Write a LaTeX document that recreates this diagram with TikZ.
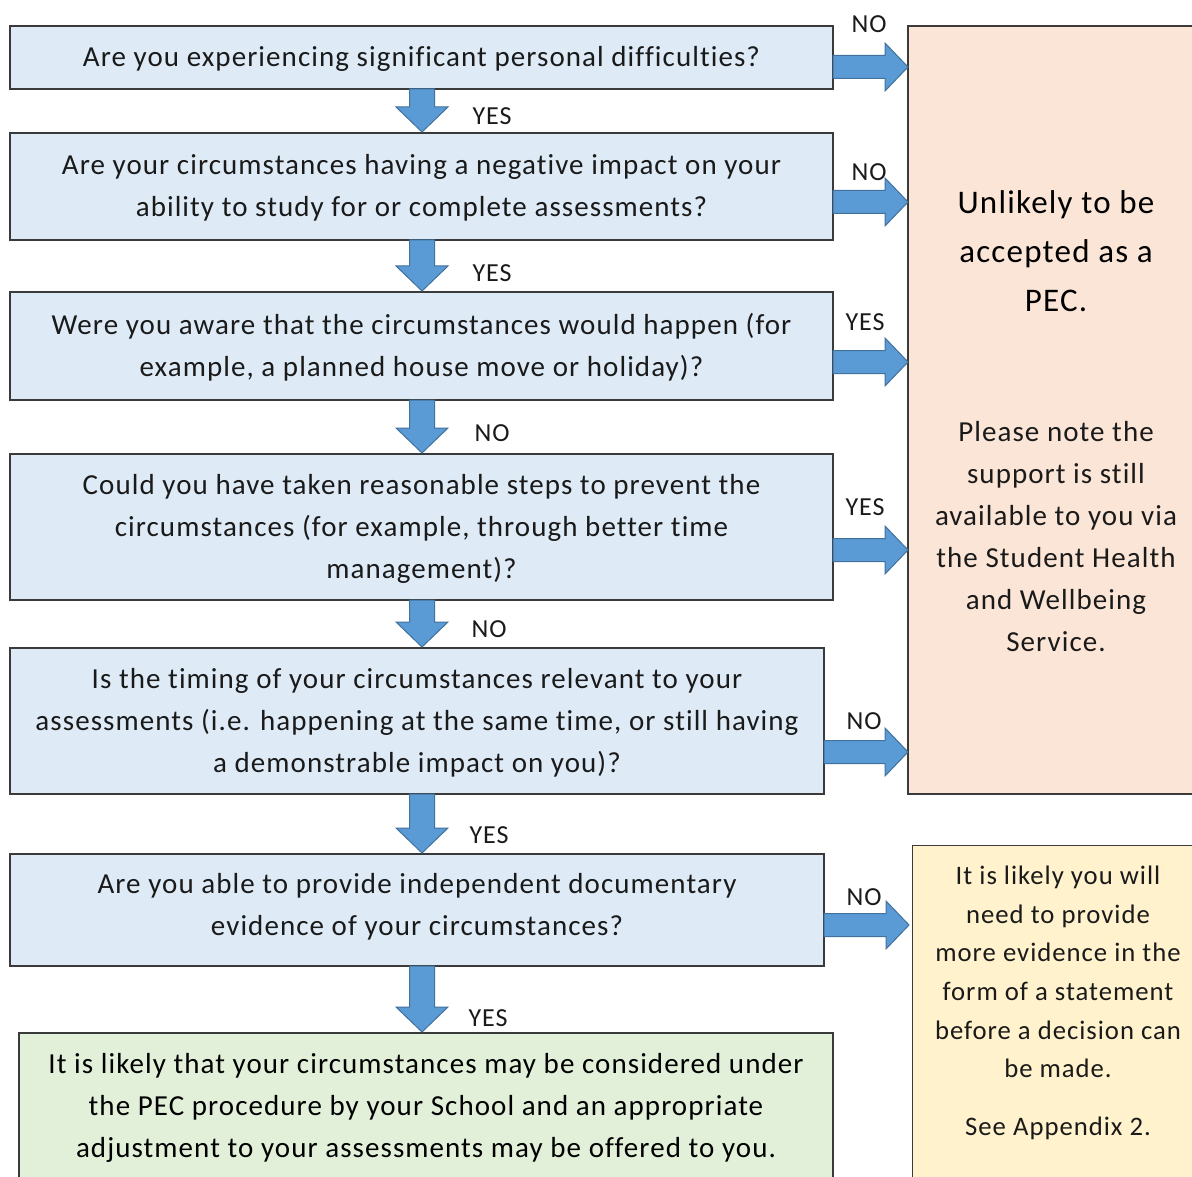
\documentclass[tikz,border=0pt]{standalone}
\usepackage{fontspec}
\setmainfont{Carlito}[LetterSpace=3.7, Ligatures=NoCommon]
\usetikzlibrary{calc}
\definecolor{qfill}{HTML}{DEEBF7}
\definecolor{pinkfill}{HTML}{FBE5D6}
\definecolor{yelfill}{HTML}{FFF2CC}
\definecolor{grnfill}{HTML}{E2F0D9}
\definecolor{arrfill}{HTML}{5B9BD5}
\definecolor{arredge}{HTML}{41719C}
\definecolor{edgegray}{HTML}{3A3A3A}
\definecolor{txt}{HTML}{1A1A1A}
\tikzset{
  qbox/.style={draw=edgegray, line width=1.2pt, fill=qfill},
  qtext/.style={text=txt, align=center, inner sep=0pt, font=\fontsize{29}{42}\selectfont},
  lbl/.style={text=txt, inner sep=0pt, font=\fontsize{26}{28}\selectfont},
  barrow/.style={fill=arrfill, draw=arredge, line width=1pt, line join=miter},
}
\newcommand\downarr[2]{\draw[barrow] let \p1=(#1), \p2=(#2) in
  (\x1-12.5pt,\y1) -- (\x1+12.5pt,\y1) -- (\x1+12.5pt,\y2+25pt) -- (\x1+26pt,\y2+25pt)
  -- (\x1,\y2) -- (\x1-26pt,\y2+25pt) -- (\x1-12.5pt,\y2+25pt) -- cycle;}
\newcommand\rightarr[2]{\draw[barrow] let \p1=(#1), \p2=(#2) in
  (\x1,\y1+11.5pt) -- (\x2-23pt,\y1+11.5pt) -- (\x2-23pt,\y1+24pt) -- (\x2,\y1)
  -- (\x2-23pt,\y1-24pt) -- (\x2-23pt,\y1-11.5pt) -- (\x1,\y1-11.5pt) -- cycle;}
\begin{document}
\begin{tikzpicture}[x=1pt,y=-1pt]
\useasboundingbox[fill=white] (0,0) rectangle (1192,1177);
% question boxes
\draw[qbox] (10,26) rectangle (833,89) node[midway, qtext, yshift=-1.5pt] (q1) {Are you experiencing significant personal difficulties?};
\draw[qbox] (10,133) rectangle (833,240) node[midway, qtext, yshift=-1pt] (q2) {Are your circumstances having a negative impact on your\\ability to study for or complete assessments?};
\draw[qbox] (10,292) rectangle (833,400) node[midway, qtext, yshift=-1pt] (q3) {Were you aware that the circumstances would happen (for\\example, a planned house move or holiday)?};
\draw[qbox] (10,454) rectangle (833,600) node[midway, qtext, yshift=-1.5pt] (q4) {Could you have taken reasonable steps to prevent the\\circumstances (for example, through better time\\management)?};
\draw[qbox] (10,648) rectangle (824,794) node[midway, qtext, yshift=-1.5pt] (q5) {Is the timing of your circumstances relevant to your\\assessments (i.e. happening at the same time, or still having\\a demonstrable impact on you)?};
\draw[qbox] (10,854) rectangle (824,966) node[midway, qtext, yshift=3pt] (q6) {Are you able to provide independent documentary\\evidence of your circumstances?};
\draw[draw=edgegray, line width=1.2pt, fill=grnfill] (19,1033) rectangle (833,1190);
\node[qtext, font=\fontsize{29}{42}\selectfont, text=black] (res) at (426,1108) {It is likely that your circumstances may be considered under\\the PEC procedure by your School and an appropriate\\adjustment to your assessments may be offered to you.};
% outcome boxes
\draw[draw=edgegray, line width=1.2pt, fill=pinkfill] (908,26) rectangle (1205,794);
\node[text=black, align=center, inner sep=0pt, font=\fontsize{33}{49}\selectfont] (pt) at (1056,251) {Unlikely to be\\accepted as a\\PEC.};
\node[qtext] (pb) at (1056,537) {Please note the\\support is still\\available to you via\\the Student Health\\and Wellbeing\\Service.};
\draw[draw=edgegray, line width=1pt, fill=yelfill] (912,845) rectangle (1205,1190);
\node[qtext, font=\fontsize{26.7}{38.6}\selectfont] (yb) at (1058,972) {It is likely you will\\need to provide\\more evidence in the\\form of a statement\\before a decision can\\be made.};
\node[qtext, font=\fontsize{26.7}{38.6}\selectfont] (yb2) at (1058,1128) {See Appendix 2.};
% helper coordinates
\coordinate (r1) at (908,67);
\coordinate (r2) at (908,202);
\coordinate (r3) at (908,362);
\coordinate (r4) at (908,550);
\coordinate (r5) at (908,752);
\coordinate (r6) at (909,925);
\coordinate (e1) at (833,67);
\coordinate (e2) at (833,202);
\coordinate (e3) at (833,362);
\coordinate (e4) at (833,550);
\coordinate (e5) at (824,752);
\coordinate (e6) at (824,925);
\coordinate (d1a) at (422,89);  \coordinate (d1b) at (422,132);
\coordinate (d2a) at (422,240); \coordinate (d2b) at (422,291);
\coordinate (d3a) at (422,400); \coordinate (d3b) at (422,453);
\coordinate (d4a) at (422,600); \coordinate (d4b) at (422,647);
\coordinate (d5a) at (422,794); \coordinate (d5b) at (422,853);
\coordinate (d6a) at (422,966); \coordinate (d6b) at (422,1032);
\downarr{d1a}{d1b}
\downarr{d2a}{d2b}
\downarr{d3a}{d3b}
\downarr{d4a}{d4b}
\downarr{d5a}{d5b}
\downarr{d6a}{d6b}
\rightarr{e1}{r1}
\rightarr{e2}{r2}
\rightarr{e3}{r3}
\rightarr{e4}{r4}
\rightarr{e5}{r5}
\rightarr{e6}{r6}
% labels
\node[lbl] (l1) at (869,24) {NO};
\node[lbl] (l2) at (492,116) {YES};
\node[lbl] (l3) at (869,172) {NO};
\node[lbl] (l4) at (492,273) {YES};
\node[lbl] (l5) at (865,322) {YES};
\node[lbl] (l6) at (492,433) {NO};
\node[lbl] (l7) at (865,507) {YES};
\node[lbl] (l8) at (489,629) {NO};
\node[lbl] (l9) at (864,721) {NO};
\node[lbl] (l10) at (489,835) {YES};
\node[lbl] (l11) at (864,897) {NO};
\node[lbl] (l12) at (488,1018) {YES};
\end{tikzpicture}
\end{document}
